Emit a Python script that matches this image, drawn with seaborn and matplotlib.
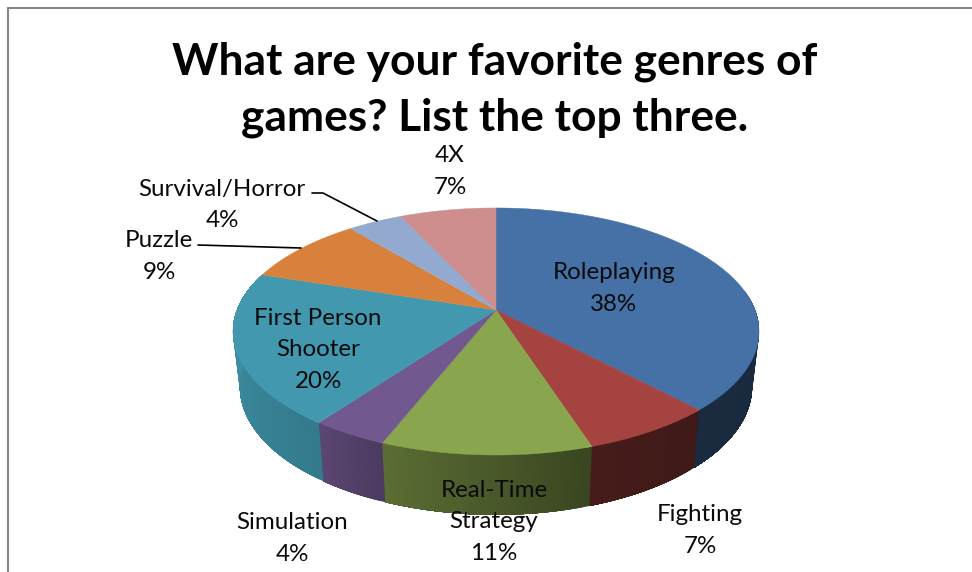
import numpy as np
import matplotlib
matplotlib.use("Agg")
import matplotlib.pyplot as plt
import seaborn as sns

# Survey results: share of respondents per game genre, clockwise from 12 o'clock
genres = ["Roleplaying", "Fighting", "Real-Time Strategy", "Simulation",
          "First Person Shooter", "Puzzle", "Survival/Horror", "4X"]
shares = [38, 7, 11, 4, 20, 9, 4, 7]
label_texts = ["Roleplaying", "Fighting", "Real-Time\nStrategy", "Simulation",
               "First Person\nShooter", "Puzzle", "Survival/Horror", "4X"]
top_colors = ["#4571A7", "#A4433F", "#89A54E", "#71588F",
              "#4198AF", "#D8813C", "#93A9CF", "#CE8E8E"]

sns.set_theme(style="white")
plt.rcParams["font.family"] = ["Lato", "DejaVu Sans"]

palette = sns.color_palette(top_colors)

fig = plt.figure(figsize=(9.72, 5.72), dpi=100, facecolor="white")
ax = fig.add_axes([0, 0, 1, 1])
ax.set_xlim(0, 972)
ax.set_ylim(572, 0)
ax.axis("off")

# Perspective projection of the pie disc onto the page
CX, CY = 496, 310
TILT = 0.174
XSCALE, YSCALE = 259, 119.8


def rim(theta):
    u, v = np.sin(theta), -np.cos(theta)
    d = 1 - TILT * v
    return CX + XSCALE * u / d, CY + YSCALE * v / d


def floor(x, y):
    return CX + 0.974 * (x - CX), CY + 54 + 1.04 * (y - CY)


# Wall shading as a function of clockwise angle in degrees
shade_deg = [80, 137, 162, 201, 216, 260, 280]
shade_val = [0.36, 0.38, 0.42, 0.66, 0.80, 0.92, 0.95]

fractions = np.array(shares) / sum(shares)
edges = 2 * np.pi * np.concatenate([[0], np.cumsum(fractions)])

# Outer wall, built from overlapping strips so the shading reads as a smooth gradient
for i, color in enumerate(palette):
    start, stop = edges[i], edges[i + 1]
    n = max(2, int(np.degrees(stop - start)))
    steps = np.linspace(start, stop, n + 1)
    for a, b in zip(steps[:-1], steps[1:]):
        mid = np.degrees((a + b) / 2)
        if not 80 < mid < 280:
            continue
        f = np.interp(mid, shade_deg, shade_val)
        shade = tuple(c * f for c in color)
        t = np.linspace(a, stop, 40) if b < stop else np.array([a, b])
        x, y = rim(t)
        xf, yf = floor(x, y)
        ax.fill(np.r_[x, xf[::-1]], np.r_[y, yf[::-1]], facecolor=shade,
                edgecolor="none", zorder=2)

# Top face of the pie
for i, color in enumerate(palette):
    t = np.linspace(edges[i], edges[i + 1], 120)
    x, y = rim(t)
    ax.fill(np.r_[CX, x], np.r_[CY, y], facecolor=color, edgecolor=color,
            linewidth=0.3, zorder=3)

# Chart frame, open on the right and at the bottom
frame = "#868686"
ax.plot([7.5, 7.5, 972], [572, 7.5, 7.5], color=frame, lw=1.5, zorder=1,
        solid_joinstyle="miter")

ax.text(495, 90, "What are your favorite genres of\ngames? List the top three.",
        ha="center", va="center", fontsize=31.9, fontweight="bold",
        color="black", linespacing=1.48, zorder=6)

# Label centres, in the same order as the genres
label_x = [614, 700, 494, 292, 318, 159, 222, 450]
label_y = [288.5, 530.5, 522, 538.5, 350, 256.5, 205, 171.5]
for text, share, lx, ly in zip(label_texts, shares, label_x, label_y):
    ax.text(lx, ly, f"{text}\n{share}%", ha="center", va="center",
            fontsize=17.4, color="#0a0a0a", linespacing=1.64, zorder=6)

# Leader lines for the two labels outside the narrow slices
ax.plot([312, 323, 377], [193, 193, 221], color="black", lw=1.2, zorder=5)
ax.plot([198, 301], [245, 248], color="black", lw=1.2, zorder=5)

fig.savefig("out.png", dpi=100, facecolor="white")
